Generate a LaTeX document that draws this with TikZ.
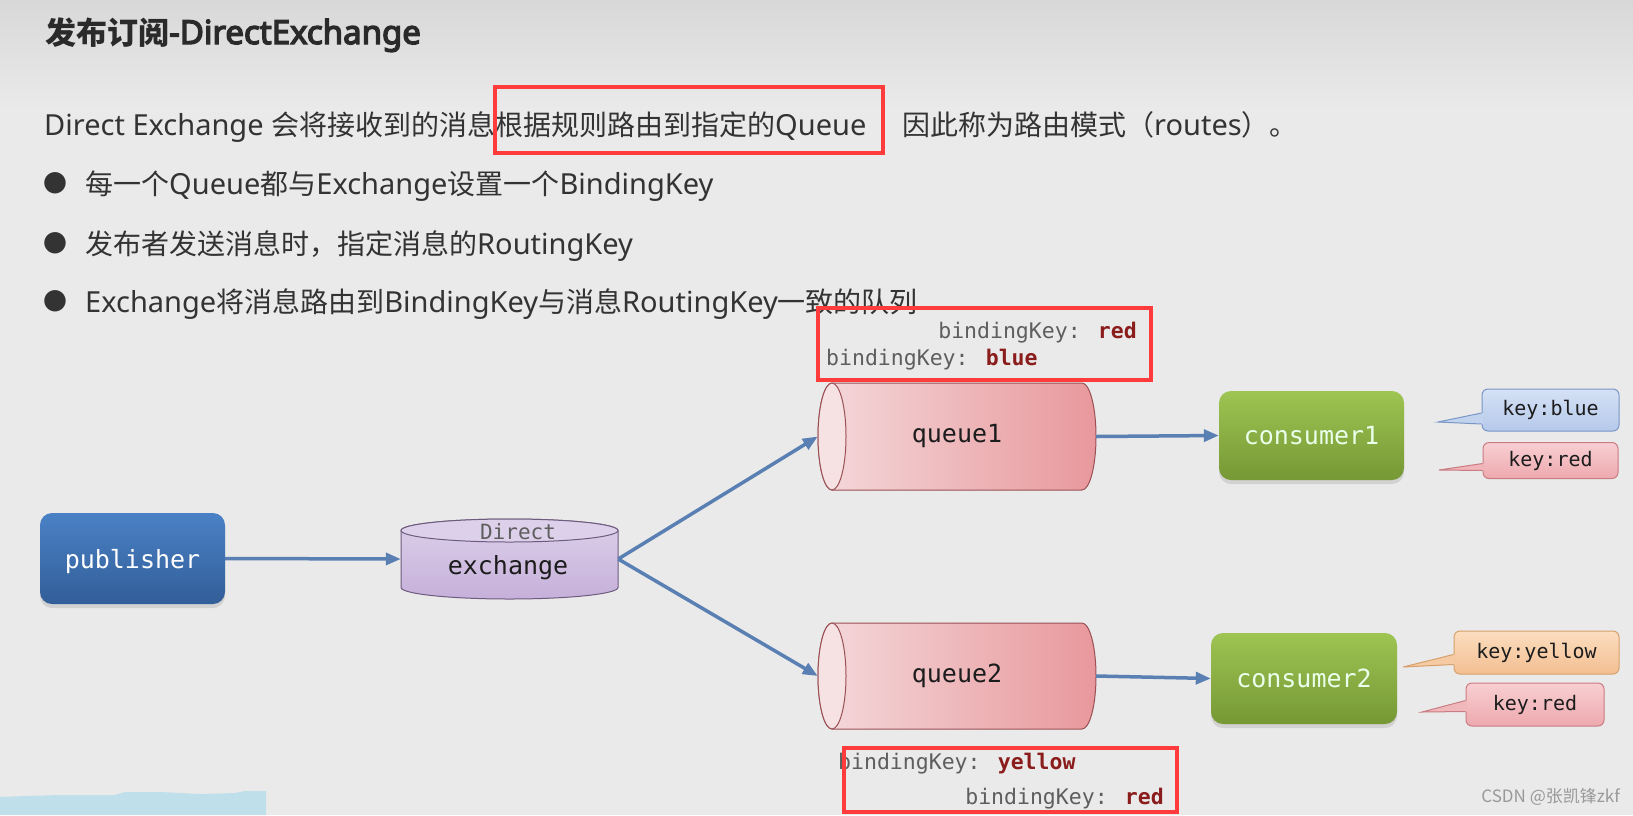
\documentclass[tikz,border=0pt]{standalone}
\usepackage{fontspec}
\setmainfont{Noto Sans CJK SC}
\newfontfamily\lat{Noto Sans}
\newfontfamily\latb{Noto Sans}[FakeBold=4.2]
\newfontfamily\monof{DejaVu Sans Mono}
\newfontfamily\dejavu{DejaVu Sans}
\usetikzlibrary{arrows.meta,shadows,calc}
\definecolor{bgtop}{HTML}{D8D8D8}
\definecolor{bgmid}{HTML}{EAEAEA}
\definecolor{titlec}{HTML}{2A2A2A}
\definecolor{bodyc}{HTML}{333333}
\definecolor{boxred}{HTML}{FF3B3B}
\definecolor{bkgray}{HTML}{5E5E5E}
\definecolor{keyred}{HTML}{8B1C1C}
\definecolor{qleft}{HTML}{F4D9DB}
\definecolor{qright}{HTML}{E8989C}
\definecolor{qface}{HTML}{F6E2E3}
\definecolor{qborder}{HTML}{9A5055}
\definecolor{extop}{HTML}{DDD0EA}
\definecolor{exbot}{HTML}{C6B0DA}
\definecolor{exborder}{HTML}{6E5C7E}
\definecolor{pubtop}{HTML}{4A81C6}
\definecolor{pubbot}{HTML}{325E98}
\definecolor{contop}{HTML}{9EC452}
\definecolor{conbot}{HTML}{769835}
\definecolor{arrowc}{HTML}{5A7FB2}
\definecolor{labelc}{HTML}{1C1C1C}
\definecolor{kbtop}{HTML}{D5E1F5}
\definecolor{kbbot}{HTML}{B5C9EA}
\definecolor{kbborder}{HTML}{7896C6}
\definecolor{krtop}{HTML}{F8CFD2}
\definecolor{krbot}{HTML}{EDA9AE}
\definecolor{krborder}{HTML}{C97C82}
\definecolor{kytop}{HTML}{FBDDBF}
\definecolor{kybot}{HTML}{F3BF92}
\definecolor{kyborder}{HTML}{D7A06A}
\definecolor{lblue}{HTML}{BFDFEA}
\newcommand\kwd[1]{{\bfseries\color{keyred}#1}}
\newcommand\la[1]{{\lat\fontsize{29}{34}\selectfont #1}}
\newcommand\lab[1]{{\latb\fontsize{33}{38}\selectfont #1}}
\tikzset{
  body/.style={anchor=base west, inner sep=0pt, text=bodyc, font=\fontsize{28}{34}\selectfont},
  redbox/.style={draw=boxred, line width=4.5pt},
  mono/.style={inner sep=0pt, text=bkgray, font=\monof\fontsize{21.5}{26}\selectfont},
  qbody/.style={draw=qborder, line width=1pt, left color=qleft, right color=qright},
  qlabel/.style={minimum width=278pt, minimum height=107pt, inner sep=0pt, text=labelc, font=\monof\fontsize{25}{30}\selectfont},
  boxnode/.style={rounded corners=12pt, inner sep=0pt, font=\monof\fontsize{25}{30}\selectfont,
    drop shadow={opacity=0.22, shadow xshift=0pt, shadow yshift=-4pt}},
  conn/.style={draw=arrowc, line width=3.5pt, -{Triangle[length=15pt,width=12pt]}},
  keybox/.style={rounded corners=6pt, line width=1pt, inner sep=0pt, text=labelc, font=\monof\fontsize{20}{24}\selectfont},
  bulletc/.style={inner sep=0pt, text=bodyc, font=\dejavu\fontsize{28}{32}\selectfont},
}
\begin{document}
\begin{tikzpicture}[x=1pt,y=-1pt]
\useasboundingbox (0,0) rectangle (1633,815);
\fill[bgmid] (0,0) rectangle (1633,815);
\fill[top color=bgtop, bottom color=bgmid] (0,0) rectangle (1633,110);
\fill[lblue] (0,815) -- (0,797) -- (25,796) -- (60,795) -- (115,795) -- (125,792) -- (160,792) -- (200,794) -- (235,793) -- (245,791) -- (266,791) -- (266,815) -- cycle;

% title and text
\node[anchor=base west, inner sep=0pt, text=titlec, font=\fontsize{31}{36}\selectfont\bfseries] (title) at (45,44) {发布订阅\lab{-DirectExchange}};
\node[body] (l1a) at (44,135) {\la{Direct Exchange }会将接收到的消息根据规则路由到指定的\la{Queue}};
\node[body] (l1b) at (902,135) {因此称为路由模式（\la{routes}）。};
\node[bulletc] (b1) at (55,183) {●};
\node[bulletc] (b2) at (55,243) {●};
\node[bulletc] (b3) at (55,301) {●};
\node[body] (t1) at (85,194) {每一个\la{Queue}都与\la{Exchange}设置一个\la{BindingKey}};
\node[body] (t2) at (85,254) {发布者发送消息时，指定消息的\la{RoutingKey}};
\node[body] (t3) at (85,312) {\la{Exchange}将消息路由到\la{BindingKey}与消息\la{RoutingKey}一致的队列};
\draw[redbox] (495,87) rectangle (883,153);

% binding keys queue1
\node[mono, anchor=east] (bk1a) at (1137,333) {bindingKey: \kwd{red}};
\node[mono, anchor=west] (bk1b) at (826,360) {bindingKey: \kwd{blue}};
\draw[redbox] (818,308) rectangle (1151,380);

% queue1
\path[qbody] (832,383) -- (1082,383) arc[start angle=-90, end angle=90, x radius=14, y radius=53.5]
  -- (832,490) arc[start angle=90, end angle=270, x radius=14, y radius=53.5] -- cycle;
\draw[draw=qborder, line width=1pt, fill=qface] (832,436.5) ellipse [x radius=14, y radius=53.5];
\node[qlabel] (queue1) at (957,436.5) {queue1};

% queue2
\path[qbody] (832,623) -- (1082,623) arc[start angle=-90, end angle=90, x radius=14, y radius=53]
  -- (832,729) arc[start angle=90, end angle=270, x radius=14, y radius=53] -- cycle;
\draw[draw=qborder, line width=1pt, fill=qface] (832,676) ellipse [x radius=14, y radius=53];
\node[qlabel, minimum height=106pt] (queue2) at (957,676) {queue2};

% exchange
\path[draw=exborder, line width=1pt, top color=extop, bottom color=exbot]
  (401,530.5) -- (401,587.5) arc[start angle=180, end angle=0, x radius=108.5, y radius=11.5]
  -- (618,530.5) arc[start angle=0, end angle=-180, x radius=108.5, y radius=11.5] -- cycle;
\draw[draw=exborder, line width=1pt, fill=extop] (509.5,530.5) ellipse [x radius=108.5, y radius=11.5];
\node[minimum width=217pt, minimum height=80pt, inner sep=0pt] (exchange) at (509.5,559) {};
\node[inner sep=0pt, text=bkgray, font=\monof\fontsize{21}{25}\selectfont] (exdirect) at (518,532) {Direct};
\node[inner sep=0pt, text=labelc, font=\monof\fontsize{25}{30}\selectfont] (exlabel) at (508,568) {exchange};

% publisher and consumers
\node[boxnode, top color=pubtop, bottom color=pubbot, text=white, minimum width=185pt, minimum height=91pt, text depth=-3pt] (publisher) at (132.5,558.5) {publisher};
\node[boxnode, top color=contop, bottom color=conbot, text={white!92!green}, minimum width=185pt, minimum height=89pt] (consumer1) at (1311.5,435.5) {consumer1};
\node[boxnode, top color=contop, bottom color=conbot, text={white!92!green}, minimum width=186pt, minimum height=91pt] (consumer2) at (1304,678.5) {consumer2};

% connectors
\draw[conn] (publisher.east) -- (exchange.west);
\draw[conn] (exchange.east) -- (queue1.west);
\draw[conn] (exchange.east) -- (queue2.west);
\draw[conn] (queue1.east) -- (consumer1.west);
\draw[conn] (queue2.east) -- (consumer2.west);

% key callouts
\node[keybox, draw=kbborder, top color=kbtop, bottom color=kbbot, minimum width=137pt, minimum height=42pt] (kb1) at (1550.5,410) {key:blue};
\coordinate (kb1tip) at (1438,422);
\fill[kbbot!60!kbtop] (kb1tip) -- ($(kb1.west)+(1.5,3)$) -- ($(kb1.west)+(1.5,14)$) -- cycle;
\draw[kbborder, line width=1pt] ($(kb1.west)+(0,3)$) -- (kb1tip) -- ($(kb1.west)+(0,14)$);

\node[keybox, draw=krborder, top color=krtop, bottom color=krbot, minimum width=135pt, minimum height=36pt] (kr1) at (1550.5,460.5) {key:red};
\coordinate (kr1tip) at (1439,470);
\fill[krbot!70!krtop] (kr1tip) -- ($(kr1.west)+(1.5,3)$) -- ($(kr1.west)+(1.5,10)$) -- cycle;
\draw[krborder, line width=1pt] ($(kr1.west)+(0,3)$) -- (kr1tip) -- ($(kr1.west)+(0,10)$);

\node[keybox, draw=kyborder, top color=kytop, bottom color=kybot, minimum width=165pt, minimum height=43pt] (ky2) at (1536.5,652.5) {key:yellow};
\coordinate (ky2tip) at (1403,667);
\fill[kybot!60!kytop] (ky2tip) -- ($(ky2.west)+(1.5,2)$) -- ($(ky2.west)+(1.5,12)$) -- cycle;
\draw[kyborder, line width=1pt] ($(ky2.west)+(0,2)$) -- (ky2tip) -- ($(ky2.west)+(0,12)$);

\node[keybox, draw=krborder, top color=krtop, bottom color=krbot, minimum width=138pt, minimum height=43pt] (kr2) at (1535,704.5) {key:red};
\coordinate (kr2tip) at (1422,712);
\fill[krbot!60!krtop] (kr2tip) -- ($(kr2.west)+(1.5,-4)$) -- ($(kr2.west)+(1.5,7)$) -- cycle;
\draw[krborder, line width=1pt] ($(kr2.west)+(0,-4)$) -- (kr2tip) -- ($(kr2.west)+(0,7)$);

% binding keys queue2
\node[mono, anchor=west] (bk2a) at (838,764) {bindingKey: \kwd{yellow}};
\node[mono, anchor=east] (bk2b) at (1164,799) {bindingKey: \kwd{red}};
\draw[redbox] (844,748) rectangle (1177,812);

% watermark
\node[anchor=east, inner sep=0pt, text=black!40, font=\fontsize{17}{20}\selectfont] (wm) at (1620,797) {CSDN @张凯锋zkf};
\end{tikzpicture}
\end{document}
